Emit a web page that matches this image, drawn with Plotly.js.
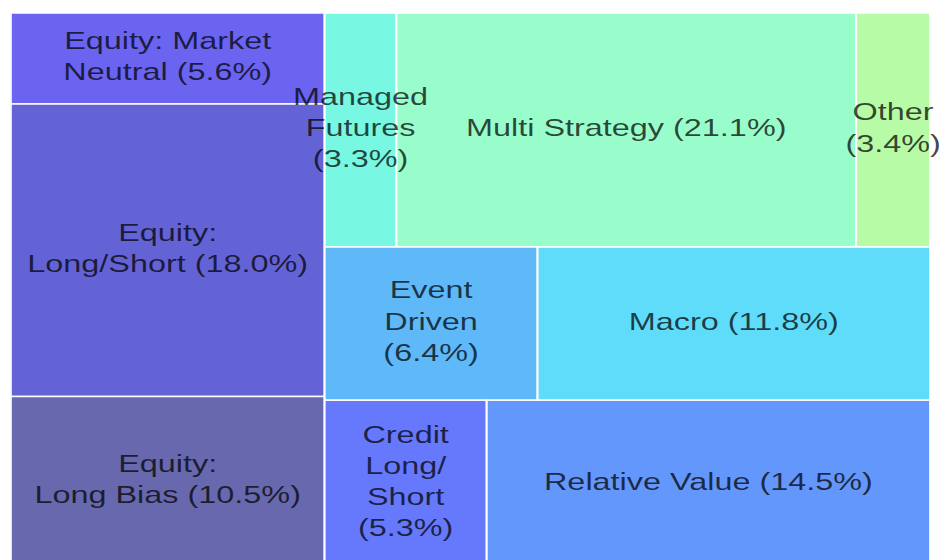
<!DOCTYPE html>
<html>
<head>
<meta charset="utf-8">
<script src="https://cdn.plot.ly/plotly-3.0.1.min.js"></script>
<style>
  html, body { margin: 0; padding: 0; background: #ffffff; overflow: hidden; }
  #chart { width: 697px; height: 572px; transform: scaleX(1.35); transform-origin: 0 0; }
</style>
</head>
<body>
<div id="chart"></div>
<script>
// ---- data ----
const labels = ['Equity: Market Neutral', 'Equity: Long/Short', 'Equity: Long Bias',
                'Managed Futures', 'Multi Strategy', 'Other',
                'Event Driven', 'Macro',
                'Credit Long/Short', 'Relative Value'];
const values = [5.6, 18.0, 10.5, 3.3, 21.1, 3.4, 6.4, 11.8, 5.3, 14.5];
// wrapped label text as shown in each tile (before the percentage)
const wrappedLabels = ['Equity: Market<br>Neutral ', 'Equity:<br>Long/Short ', 'Equity:<br>Long Bias ',
                       'Managed<br>Futures<br>', 'Multi Strategy ', 'Other<br>',
                       'Event<br>Driven<br>', 'Macro ',
                       'Credit<br>Long/<br>Short<br>', 'Relative Value '];
// tile grouping: column block, then row inside the block
const column = [0, 0, 0, 1, 1, 1, 1, 1, 1, 1];
const row    = [0, 1, 2, 0, 0, 0, 1, 1, 2, 2];
const colors = ['#6a64f0', '#6463d6', '#6868ae',
                '#78f8e2', '#98fdcb', '#b8fba6',
                '#5fb9f8', '#60dcfb',
                '#6678fb', '#6497fb'];

// ---- layout computation (slice and dice from the values) ----
const total = values.reduce((a, b) => a + b, 0);
const colIds = [...new Set(column)];
const rects = new Array(values.length);
let cx = 0;
colIds.forEach(c => {
  const idx = values.map((v, i) => i).filter(i => column[i] === c);
  const cSum = idx.reduce((a, i) => a + values[i], 0);
  const cw = cSum / total;
  const rowIds = [...new Set(idx.map(i => row[i]))];
  let cy = 0;
  rowIds.forEach(r => {
    const ridx = idx.filter(i => row[i] === r);
    const rSum = ridx.reduce((a, i) => a + values[i], 0);
    const rh = rSum / cSum;
    let rx = cx;
    ridx.forEach(i => {
      const w = cw * values[i] / rSum;
      rects[i] = {x0: rx, x1: rx + w, y0: cy, y1: cy + rh};
      rx += w;
    });
    cy += rh;
  });
  cx += cw;
});

const traces = rects.map((r, i) => ({
  type: 'scatter',
  mode: 'lines',
  x: [r.x0, r.x1, r.x1, r.x0, r.x0],
  y: [r.y0, r.y0, r.y1, r.y1, r.y0],
  fill: 'toself',
  fillcolor: colors[i],
  line: {color: '#ffffff', width: 1.5},
  name: labels[i],
  hoverinfo: 'skip',
  showlegend: false
}));

traces.push({
  type: 'scatter',
  mode: 'text',
  x: rects.map(r => (r.x0 + r.x1) / 2),
  y: rects.map(r => (r.y0 + r.y1) / 2),
  text: values.map((v, i) => wrappedLabels[i] + '(' + v.toFixed(1) + '%)'),
  textposition: 'middle center',
  textfont: {family: 'Liberation Sans, Arial, sans-serif', size: 24, color: 'rgba(0,0,0,0.72)'},
  cliponaxis: false,
  hoverinfo: 'skip',
  showlegend: false
});

const layout = {
  width: 697,
  height: 572,
  autosize: false,
  margin: {l: 8, r: 8, t: 13, b: 5, pad: 0},
  paper_bgcolor: '#ffffff',
  plot_bgcolor: '#ffffff',
  showlegend: false,
  xaxis: {range: [0, 1], visible: false, fixedrange: true},
  yaxis: {range: [1, 0], visible: false, fixedrange: true}
};

Plotly.newPlot('chart', traces, layout, {displayModeBar: false, staticPlot: true});
</script>
</body>
</html>
